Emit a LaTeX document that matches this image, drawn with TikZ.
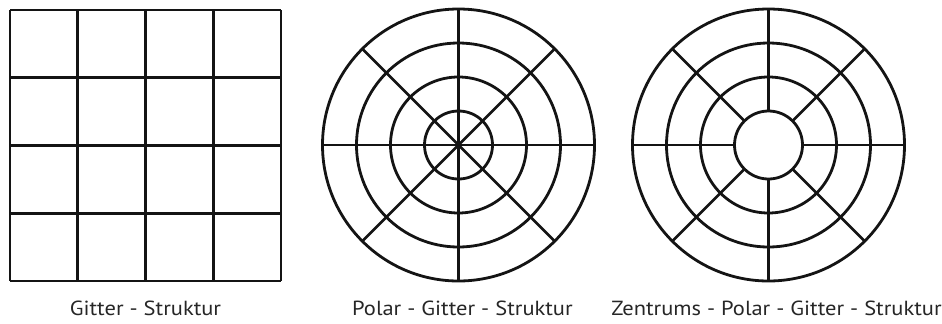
\documentclass[tikz,border=0pt]{standalone}
\usepackage{fontspec}
\setmainfont[FakeStretch=1.1]{PT Sans}
\begin{document}
\begin{tikzpicture}[x=1bp,y=-1bp,
  ln/.style={line width=2.8bp,black!92},
  captxt/.style={font=\fontsize{20.5}{24}\selectfont,text=black!85,anchor=base,inner sep=0pt}]
\useasboundingbox (0,0) rectangle (942,323);
% Gitter
\foreach \i in {0,...,4}{
  \draw[ln] ({10+67.75*\i},10) -- ({10+67.75*\i},281);
  \draw[ln] (10,{10+67.75*\i}) -- (281,{10+67.75*\i});
}
\node[captxt] (c1) at (145.5,315.5) {Gitter - Struktur};
% Polar
\coordinate (p) at (458.5,145);
\foreach \r in {34,68,102,136}{\draw[ln] (p) circle[radius=\r];}
\foreach \a in {0,45,...,315}{\draw[ln] (p) -- ++(\a:136);}
\node[captxt] (c2) at (462.5,315.5) {Polar - Gitter - Struktur};
% Zentrums-Polar
\coordinate (z) at (768.5,145);
\foreach \r in {34,68,102,136}{\draw[ln] (z) circle[radius=\r];}
\foreach \a in {0,45,...,315}{\draw[ln] (z) ++(\a:34) -- ++(\a:102);}
\node[captxt] (c3) at (776.5,315.5) {Zentrums - Polar - Gitter - Struktur};
\end{tikzpicture}
\end{document}
